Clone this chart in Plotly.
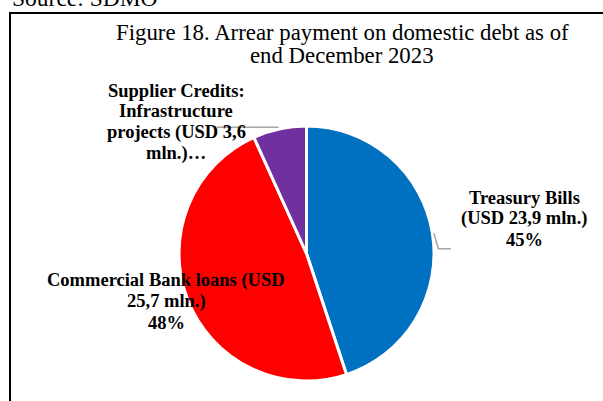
import math
import plotly.graph_objects as go

# Figure size in pixels
W, H = 603, 401

# Data: arrears on domestic debt, end December 2023 (USD mln.)
categories = ["Treasury Bills", "Commercial Bank loans",
              "Supplier Credits: Infrastructure projects"]
values = [23.9, 25.7, 3.6]
colors = ["#0070C0", "#FF0000", "#7030A0"]

title_lines = ["Figure 18. Arrear payment on domestic debt as of",
               "end December 2023"]
source_text = "Source: SDMO"

total = sum(values)
pcts = [round(v / total * 100) for v in values]
vals_txt = [f"{v:.1f}".replace(".", ",") for v in values]

# Wrapped data labels, one list of lines per slice
label_lines = [
    ["Treasury Bills", f"(USD {vals_txt[0]} mln.)", f"{pcts[0]}%"],
    ["Commercial Bank loans (USD", f"{vals_txt[1]} mln.)", f"{pcts[1]}%"],
    ["Supplier Credits:", "Infrastructure", f"projects (USD {vals_txt[2]}", "mln.)…"],
]
# label block centre x and first-line centre y (pixels), line step
label_pos = [(524, 198), (166, 280.5), (176, 90.5)]
LABEL_STEP = 21

SERIF = "Liberation Serif, Times New Roman, serif"

# pie geometry (pixels)
CX, CY, R = 306.5, 253.5, 127.5


def px(x):
    return x / W


def py(y):
    return 1 - y / H


fig = go.Figure()
fig.add_trace(go.Pie(
    labels=categories,
    values=values,
    sort=False,
    direction="clockwise",
    rotation=0,
    marker=dict(colors=colors, line=dict(color="white", width=3)),
    textinfo="none",
    textposition="none",
    hoverinfo="label+value+percent",
    domain=dict(x=[px(CX - R), px(CX + R)], y=[py(CY + R), py(CY - R)]),
))

annotations = []
# source line (runs off the top of the page)
annotations.append(dict(
    text=source_text, x=px(10), y=py(-2), xref="paper", yref="paper",
    xanchor="left", yanchor="middle", showarrow=False,
    font=dict(family=SERIF, size=23.5, color="black")))
# title lines
for i, t in enumerate(title_lines):
    annotations.append(dict(
        text=t, x=px(342), y=py(32 + i * 24), xref="paper", yref="paper",
        xanchor="center", yanchor="middle", showarrow=False,
        font=dict(family=SERIF, size=22.8, color="black")))
# data labels
for lines, (lx, ly) in zip(label_lines, label_pos):
    for j, t in enumerate(lines):
        annotations.append(dict(
            text=f"<b>{t}</b>", x=px(lx), y=py(ly + j * LABEL_STEP),
            xref="paper", yref="paper", xanchor="center", yanchor="middle",
            showarrow=False, font=dict(family=SERIF, size=18.5, color="black")))

# leader lines start at each slice's mid-angle on the rim
cum = 0
mid_pts = []
for v in values:
    a = (cum + v / 2) / total * 2 * math.pi
    mid_pts.append((CX + R * math.sin(a), CY - R * math.cos(a)))
    cum += v

shapes = [
    # frame around the figure (right/bottom edges fall off the page)
    dict(type="rect", xref="paper", yref="paper", x0=px(10), y0=py(H + 20),
         x1=px(W + 20), y1=py(13), line=dict(color="black", width=2)),
]
tb = mid_pts[0]
shapes.append(dict(
    type="path", xref="paper", yref="paper",
    path=(f"M {px(tb[0] + 1.5)},{py(tb[1])} L {px(tb[0] + 6)},{py(tb[1] + 15.5)} "
          f"L {px(tb[0] + 18.5)},{py(tb[1] + 15.5)}"),
    line=dict(color="#A6A6A6", width=1.5)))
sc = mid_pts[2]
shapes.append(dict(
    type="path", xref="paper", yref="paper",
    path=f"M {px(sc[0] - 1)},{py(sc[1] - 1.5)} L {px(217)},{py(sc[1] - 1.5)}",
    line=dict(color="#A6A6A6", width=1.5)))

fig.update_layout(
    width=W, height=H,
    margin=dict(l=0, r=0, t=0, b=0),
    paper_bgcolor="white", plot_bgcolor="white",
    showlegend=False,
    annotations=annotations,
    shapes=shapes,
)

fig.write_html("out.html")
